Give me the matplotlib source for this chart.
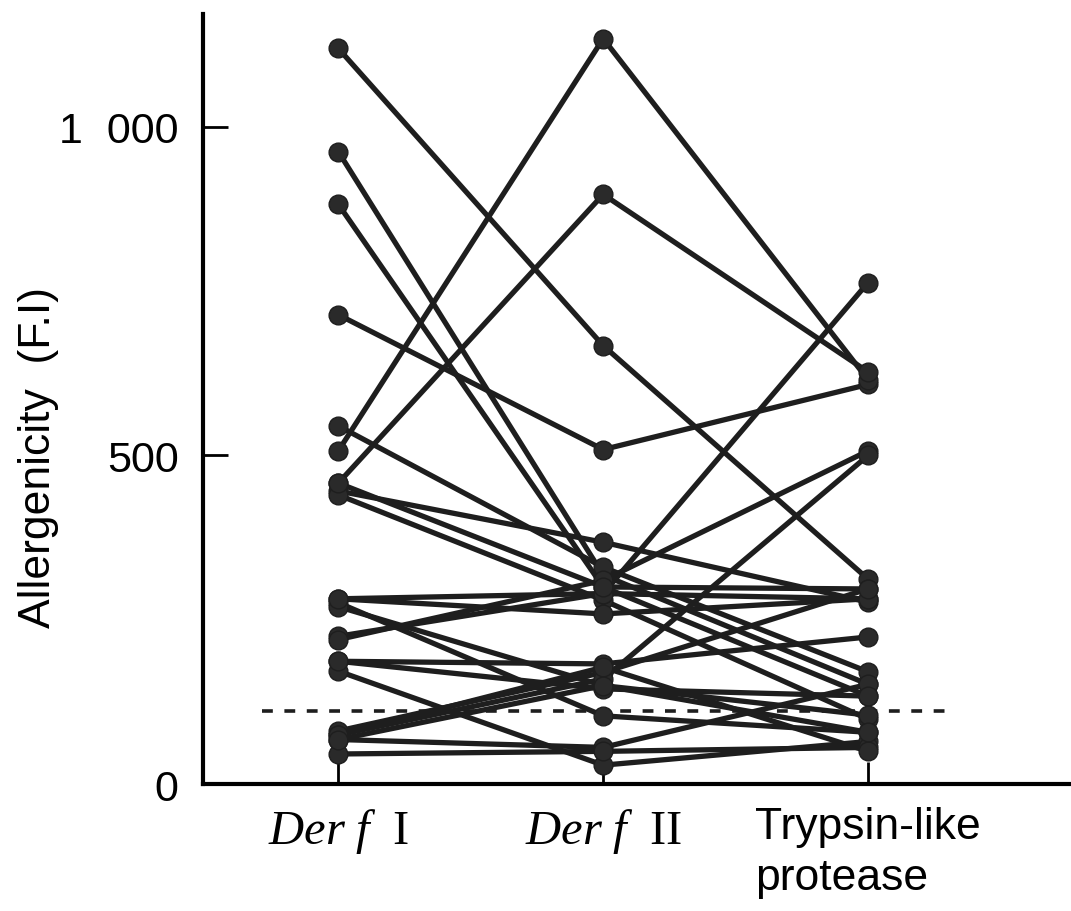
import matplotlib.pyplot as plt

plt.rcParams['font.family'] = 'Liberation Sans'
plt.rcParams['mathtext.fontset'] = 'custom'
plt.rcParams['mathtext.rm'] = 'Liberation Serif'
plt.rcParams['mathtext.it'] = 'Liberation Serif:italic'

# Allergenicity (F.I) per serum: Der f I, Der f II, trypsin-like protease
der_f1 = [1119, 962, 882, 714, 507, 458, 545, 446, 440, 282, 276, 270, 225,
          220, 187, 172, 81, 75, 68, 46, 75, 187, 282, 458, 68]
der_f2 = [667, 318, 300, 509, 1134, 897, 330, 368, 280, 259, 104, 150, 290,
          310, 183, 29, 170, 160, 56, 50, 178, 145, 290, 300, 150]
trypsin = [312, 152, 134, 608, 615, 627, 171, 277, 99, 282, 79, 105, 763,
           507, 224, 65, 297, 500, 152, 56, 50, 134, 282, 297, 79]

categories = [r'$\mathit{Der\ f}\ \ \mathrm{I}$',
              r'$\mathit{Der\ f}\ \ \mathrm{II}$',
              'Trypsin-like\nprotease']
cutoff = 111

fig = plt.figure(figsize=(10.71, 9.12), dpi=100)
ax = fig.add_axes([0.19, 0.139, 0.81, 0.845])

for a, b, c in zip(der_f1, der_f2, trypsin):
    ax.plot([0, 1, 2], [a, b, c], color='#1e1e1e', linewidth=3.8,
            marker='o', markersize=13.5, markerfacecolor='#2a2a2a',
            markeredgecolor='#1e1e1e', solid_capstyle='round', zorder=3)

ax.plot([-0.29, 2.29], [cutoff, cutoff], color='#1e1e1e', linewidth=2.6,
        linestyle=(0, (3, 3.2)), zorder=2)

ax.set_xlim(-0.509, 2.766)
ax.set_ylim(0, 1172)

ax.spines['top'].set_visible(False)
ax.spines['right'].set_visible(False)
ax.spines['left'].set_linewidth(3)
ax.spines['bottom'].set_linewidth(3)

ax.set_yticks([0, 500, 1000])
ax.set_yticklabels(['0', '500', '1  000'], fontsize=31)
ax.tick_params(axis='y', direction='in', length=18, width=2, pad=18)

ax.set_xticks([0, 1, 2])
ax.set_xticklabels(categories, fontsize=32, multialignment='left',
                   linespacing=1.3)
ax.tick_params(axis='x', direction='in', length=16, width=2, pad=16)
for lbl in ax.get_xticklabels()[:2]:
    lbl.set_fontsize(35)

ax.set_ylabel('Allergenicity  (F.I)', fontsize=32)
ax.yaxis.set_label_coords(-0.166, 0.425)

fig.savefig('out.png', dpi=100)
